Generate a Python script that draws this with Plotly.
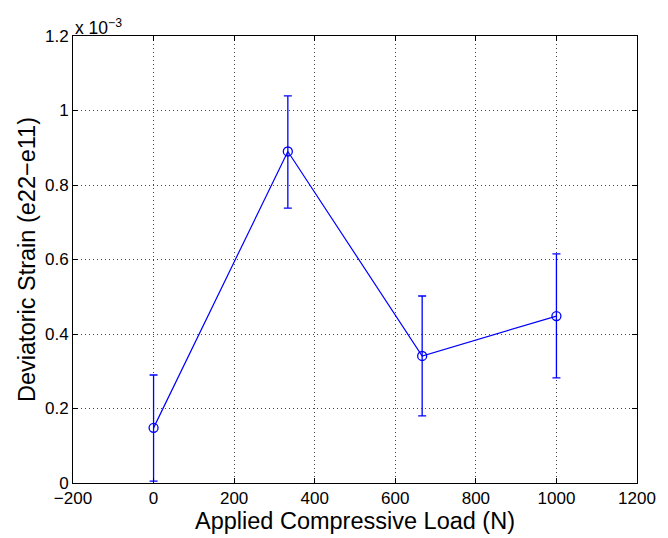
import plotly.graph_objects as go

load = [0, 333.3, 666.7, 1000]
strain = [0.148e-3, 0.890e-3, 0.341e-3, 0.448e-3]
err_upper = [0.290e-3, 1.039e-3, 0.502e-3, 0.615e-3]
err_lower = [0.005e-3, 0.738e-3, 0.180e-3, 0.282e-3]

x_ticks = [-200, 0, 200, 400, 600, 800, 1000, 1200]
x_ticktext = ["−200", "0", "200", "400", "600", "800", "1000", "1200"]
y_ticks = [0, 0.2e-3, 0.4e-3, 0.6e-3, 0.8e-3, 1.0e-3, 1.2e-3]
y_ticktext = ["0", "0.2", "0.4", "0.6", "0.8", "1", "1.2"]

plus = [u - s for u, s in zip(err_upper, strain)]
minus = [s - l for s, l in zip(strain, err_lower)]

font = "Liberation Sans, Arial, Helvetica, sans-serif"

fig = go.Figure()
fig.add_trace(go.Scatter(
    x=load, y=strain, mode="lines+markers",
    line=dict(color="#0000FF", width=1.2),
    marker=dict(symbol="circle-open", size=9, color="#0000FF", line=dict(width=1.3)),
    error_y=dict(type="data", symmetric=False, array=plus, arrayminus=minus,
                 color="#0000FF", thickness=1.3, width=4),
    showlegend=False,
))

axis_common = dict(
    showline=True, linecolor="black", linewidth=1, mirror="ticks",
    ticks="inside", ticklen=5, tickcolor="black",
    showgrid=True, gridcolor="#444444", griddash="1px,3px", gridwidth=1,
    zeroline=False, tickfont=dict(family=font, size=17, color="black"),
)

fig.update_layout(
    width=668, height=538,
    margin=dict(l=73, r=26, t=36, b=55),
    paper_bgcolor="white", plot_bgcolor="white",
    font=dict(family=font, color="black"),
    xaxis=dict(range=[-200, 1200], tickvals=x_ticks, ticktext=x_ticktext,
               title=dict(text="Applied Compressive Load (N)", font=dict(size=23.5), standoff=0),
               **axis_common),
    yaxis=dict(range=[0, 1.2e-3], tickvals=y_ticks, ticktext=y_ticktext,
               title=dict(text="Deviatoric Strain (e22−e11)", font=dict(size=23.5), standoff=2),
               **axis_common),
    annotations=[dict(text="x 10<sup>−3</sup>", x=0, y=1, xref="paper", yref="paper",
                      xanchor="left", yanchor="bottom", showarrow=False,
                      font=dict(family=font, size=17.5, color="black"), yshift=-4)],
)

fig.write_html("out.html")
